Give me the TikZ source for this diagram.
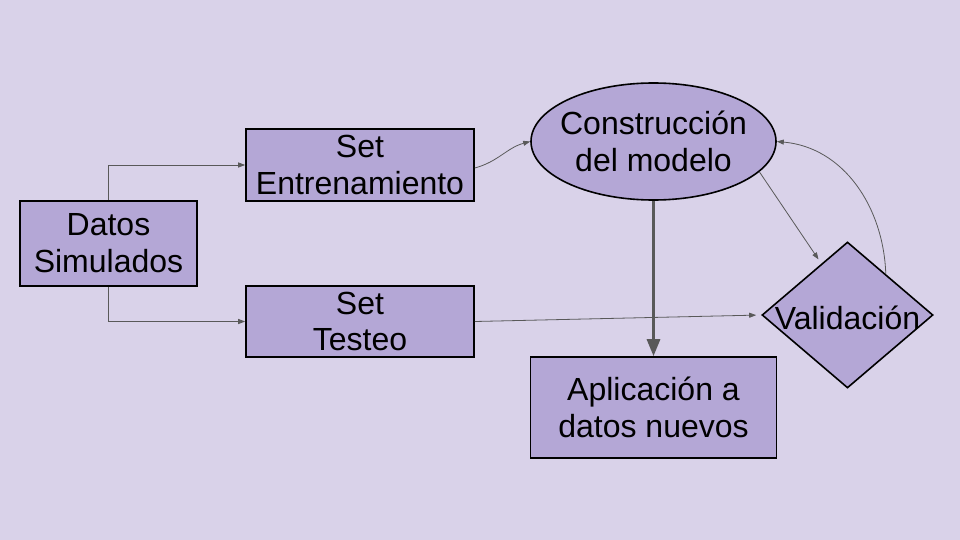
\documentclass[tikz,border=0pt]{standalone}
\usepackage{fontspec}
\setmainfont{Liberation Sans}
\usetikzlibrary{shapes.geometric,arrows.meta}
\definecolor{bgc}{HTML}{D9D2E9}
\definecolor{fillc}{HTML}{B4A7D6}
\definecolor{linec}{HTML}{595959}
\begin{document}
\begin{tikzpicture}[x=1pt,y=-1pt,
  txt/.style={font=\fontsize{32}{36.8}\selectfont, align=center, text=black},
  boxn/.style={txt, draw=black, line width=1.6pt, fill=fillc, inner sep=0pt},
  conn/.style={draw=linec, line width=0.8pt, -{Triangle[width=5pt,length=7pt]}},
  thick conn/.style={draw=linec, line width=3pt, -{Triangle[width=13pt,length=17pt]}}]
\fill[bgc] (0,0) rectangle (960,540);
\useasboundingbox (0,0) rectangle (960,540);

\node[boxn, rectangle, minimum width=177pt, minimum height=85pt] (datos) at (108.5,243.5) {Datos\\Simulados};
\node[boxn, rectangle, minimum width=228pt, minimum height=72pt] (setE) at (360,165) {Set\\Entrenamiento};
\node[boxn, rectangle, minimum width=228pt, minimum height=71pt] (setT) at (360,321.5) {Set\\Testeo};
\node[boxn, ellipse, inner sep=-20pt, minimum width=245pt, minimum height=117pt] (model) at (653.5,141.5) {Construcción\\del modelo};
\node[boxn, rectangle, minimum width=246pt, minimum height=101pt] (aplic) at (653.5,407.5) {Aplicación a\\datos nuevos};
\node[boxn, diamond, aspect=1.17, inner sep=-20pt, minimum width=171pt, minimum height=146pt] (valid) at (847.5,315) {\raisebox{-3pt}[\height][\depth]{Validación}};

\draw[conn] (datos.north) |- (setE.west);
\draw[conn] (datos.south) |- (setT.west);
\draw[conn] ([yshift=-3pt]setE.east) to[out=15,in=195] (model.west);
\draw[conn, shorten >=5pt] (setT.east) -- (valid.west);
\draw[thick conn] (model.south) -- (aplic.north);
\draw[conn, shorten >=5pt] (model.-16.5) -- (valid.117);
\draw[conn] (valid.47) to[out=92,in=-5] (model.east);
\end{tikzpicture}
\end{document}
